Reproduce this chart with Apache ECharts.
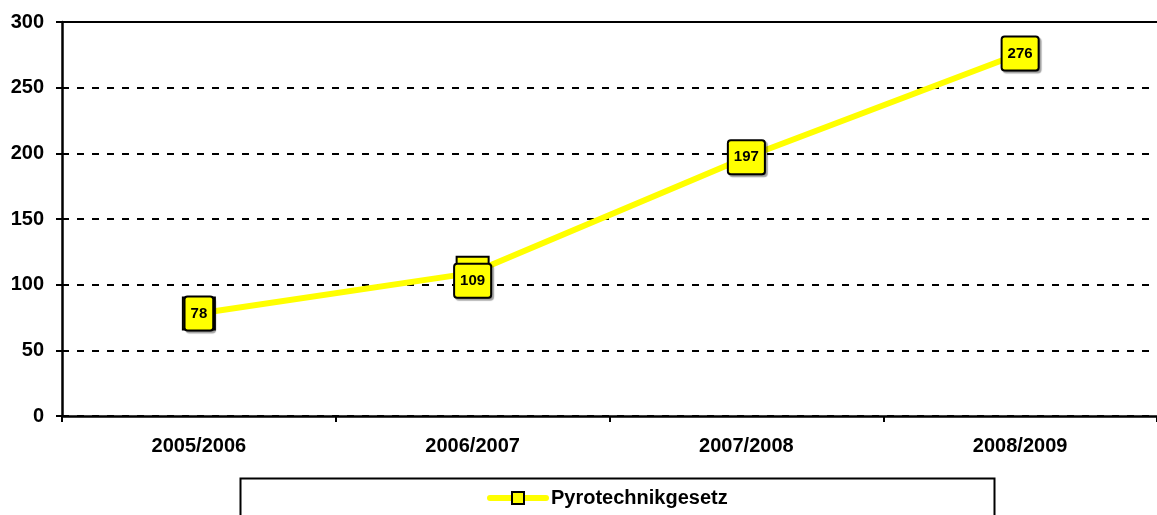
<!DOCTYPE html>
<html>
<head>
<meta charset="utf-8">
<script src="https://cdn.jsdelivr.net/npm/echarts@6/dist/echarts.min.js"></script>
<style>
  html, body { margin: 0; padding: 0; background: #fff; }
  #chart { width: 1157px; height: 515px; }
</style>
</head>
<body>
<div id="chart"></div>
<script>
// Saisons und Anzahl der Fälle nach dem Pyrotechnikgesetz
const seasons = ['2005/2006', '2006/2007', '2007/2008', '2008/2009'];
const seriesName = 'Pyrotechnikgesetz';
const counts = [78, 109, 197, 276];
const yTicks = [0, 50, 100, 150, 200, 250, 300];

const FONT = '"Liberation Sans", Arial, sans-serif';
const chart = echarts.init(document.getElementById('chart'), null, { renderer: 'canvas' });

const boxLabel = {
  show: true,
  position: 'inside',
  fontFamily: FONT,
  fontWeight: 'bold',
  fontSize: 15,
  color: '#000',
  backgroundColor: '#ffff00',
  borderColor: '#000',
  borderWidth: 2,
  borderRadius: 2,
  padding: [9, 5, 8, 5],
  shadowColor: 'rgba(0,0,0,0.35)',
  shadowOffsetX: 2,
  shadowOffsetY: 2,
  shadowBlur: 1
};

chart.setOption({
  animation: false,
  backgroundColor: '#fff',
  grid: { left: 62, top: 22, width: 1103, height: 394, containLabel: false },
  xAxis: [{
    type: 'category',
    data: seasons,
    boundaryGap: true,
    axisLine: { lineStyle: { color: '#000', width: 2.5 } },
    axisTick: { show: true, length: 6, lineStyle: { color: '#000', width: 2 } },
    axisLabel: { fontFamily: FONT, fontWeight: 'bold', fontSize: 20, color: '#000', margin: 20 },
    splitLine: { show: false }
  }, {
    type: 'category',
    data: seasons,
    position: 'top',
    axisLine: { show: true, lineStyle: { color: '#000', width: 2 } },
    axisTick: { show: false },
    axisLabel: { show: false }
  }],
  yAxis: {
    type: 'value',
    min: yTicks[0],
    max: yTicks[yTicks.length - 1],
    interval: 50,
    axisLine: { show: true, lineStyle: { color: '#000', width: 2.5 } },
    axisTick: { show: true, length: 6, lineStyle: { color: '#000', width: 2 } },
    axisLabel: { fontFamily: FONT, fontWeight: 'bold', fontSize: 20, color: '#000', margin: 18 },
    splitLine: { show: true, lineStyle: { color: '#000', width: 2, type: [7, 8] } }
  },
  legend: {
    data: [seriesName],
    left: 487,
    top: 488,
    padding: 0,
    itemWidth: 56,
    itemHeight: 15,
    itemGap: 0,
    textStyle: { fontFamily: FONT, fontWeight: 'bold', fontSize: 20, color: '#000' },
    lineStyle: { color: '#ffff00', width: 6, cap: 'round' },
    itemStyle: { color: '#ffff00', borderColor: '#000', borderWidth: 2 }
  },
  graphic: [{
    type: 'rect',
    left: 238,
    top: 476,
    shape: { width: 754, height: 60 },
    style: { fill: 'none', stroke: '#000', lineWidth: 2 },
    z: 1
  }],
  series: [{
    name: seriesName,
    type: 'line',
    data: counts,
    symbol: 'rect',
    symbolSize: [32, 32],
    lineStyle: { color: '#ffff00', width: 6 },
    itemStyle: { color: '#ffff00', borderColor: '#000', borderWidth: 2 },
    label: boxLabel,
    labelLayout: function (params) {
      // der Wert 109 sitzt leicht unterhalb seines Markers
      if (params.dataIndex === 1) {
        return { dy: 8 };
      }
      return {};
    },
    z: 5
  }]
});
</script>
</body>
</html>
